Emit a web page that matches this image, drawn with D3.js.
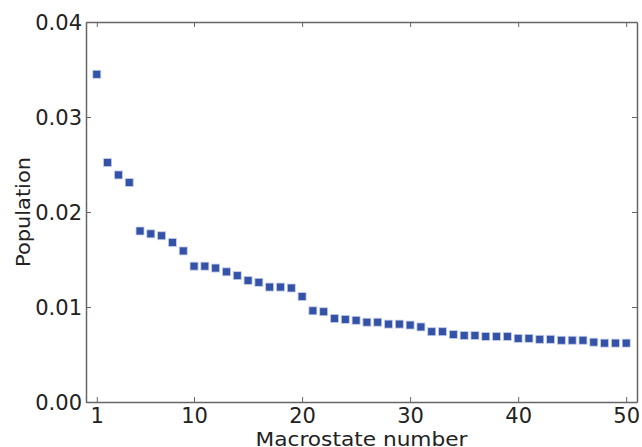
<!DOCTYPE html>
<html>
<head>
<meta charset="utf-8">
<script src="https://cdn.jsdelivr.net/npm/d3@7"></script>
<style>
html,body{margin:0;padding:0;background:#fff;}
svg{display:block;}
text{font-family:"DejaVu Sans",sans-serif;fill:#222;}
</style>
</head>
<body>
<svg id="chart" width="642" height="447"></svg>
<script>
const macrostates = d3.range(1, 51);
const population = [
  0.0345, 0.0252, 0.0239, 0.0231, 0.0180, 0.0177, 0.0175, 0.0168, 0.0159, 0.0143,
  0.0143, 0.0141, 0.0137, 0.0133, 0.0128, 0.0126, 0.0121, 0.0121, 0.0120, 0.0111,
  0.0096, 0.0095, 0.0088, 0.0087, 0.0086, 0.0084, 0.0084, 0.0082, 0.0082, 0.0081,
  0.0079, 0.0074, 0.0074, 0.0071, 0.0070, 0.0070, 0.0069, 0.0069, 0.0069, 0.0067,
  0.0067, 0.0066, 0.0066, 0.0065, 0.0065, 0.0065, 0.0063, 0.0062, 0.0062, 0.0062
];
const xTicks = [1, 10, 20, 30, 40, 50];
const yTicks = [0, 0.01, 0.02, 0.03, 0.04];

const margin = {left: 86, right: 5, top: 22, bottom: 45};
const W = 642, H = 447;
const svg = d3.select("#chart");
const x = d3.scaleLinear().domain([0, 51]).range([margin.left, W - margin.right]);
const y = d3.scaleLinear().domain([0, 0.04]).range([H - margin.bottom, margin.top]);

const frameColor = "#666";
const g = svg.append("g");

// markers
const s = 8;
g.selectAll("rect.pt").data(macrostates).enter().append("rect")
  .attr("class", "pt")
  .attr("x", d => x(d) - s / 2)
  .attr("y", (d, i) => y(population[i]) - s / 2)
  .attr("width", s).attr("height", s)
  .attr("fill", "#3352a8")
  .attr("stroke", "#c5cfe8").attr("stroke-width", 0.8);

// axes
const fmtY = d3.format(".2f");
const axB = svg.append("g").attr("transform", `translate(0,${y(0)})`)
  .call(d3.axisBottom(x).tickValues(xTicks).tickSizeInner(-5).tickSizeOuter(0).tickPadding(6).tickFormat(d3.format("d")));
const axT = svg.append("g").attr("transform", `translate(0,${y(0.04)})`)
  .call(d3.axisTop(x).tickValues(xTicks).tickSizeInner(-5).tickSizeOuter(0).tickFormat(""));
const axL = svg.append("g").attr("transform", `translate(${x(0)},0)`)
  .call(d3.axisLeft(y).tickValues(yTicks).tickSizeInner(-5).tickSizeOuter(0).tickPadding(4).tickFormat(fmtY));
const axR = svg.append("g").attr("transform", `translate(${x(51)},0)`)
  .call(d3.axisRight(y).tickValues(yTicks).tickSizeInner(-5).tickSizeOuter(0).tickFormat(""));

[axB, axT, axL, axR].forEach(a => {
  a.select(".domain").attr("stroke", frameColor).attr("stroke-width", 1.5);
  a.selectAll(".tick line").attr("stroke", frameColor).attr("stroke-width", 1);
  a.selectAll("text").attr("font-size", 21).attr("font-family", "DejaVu Sans").attr("fill", "#222");
});
axB.selectAll("text").attr("dy", "0.71em");
axL.selectAll("text").attr("dy", "0.36em");

svg.append("text")
  .attr("x", (x(0) + x(51)) / 2).attr("y", 446)
  .attr("text-anchor", "middle").attr("font-size", 20)
  .attr("textLength", 212).attr("lengthAdjust", "spacingAndGlyphs")
  .text("Macrostate number");
svg.append("text")
  .attr("transform", `translate(30,${(y(0) + y(0.04)) / 2}) rotate(-90)`)
  .attr("text-anchor", "middle").attr("font-size", 20)
  .attr("textLength", 110).attr("lengthAdjust", "spacingAndGlyphs")
  .text("Population");
</script>
</body>
</html>
